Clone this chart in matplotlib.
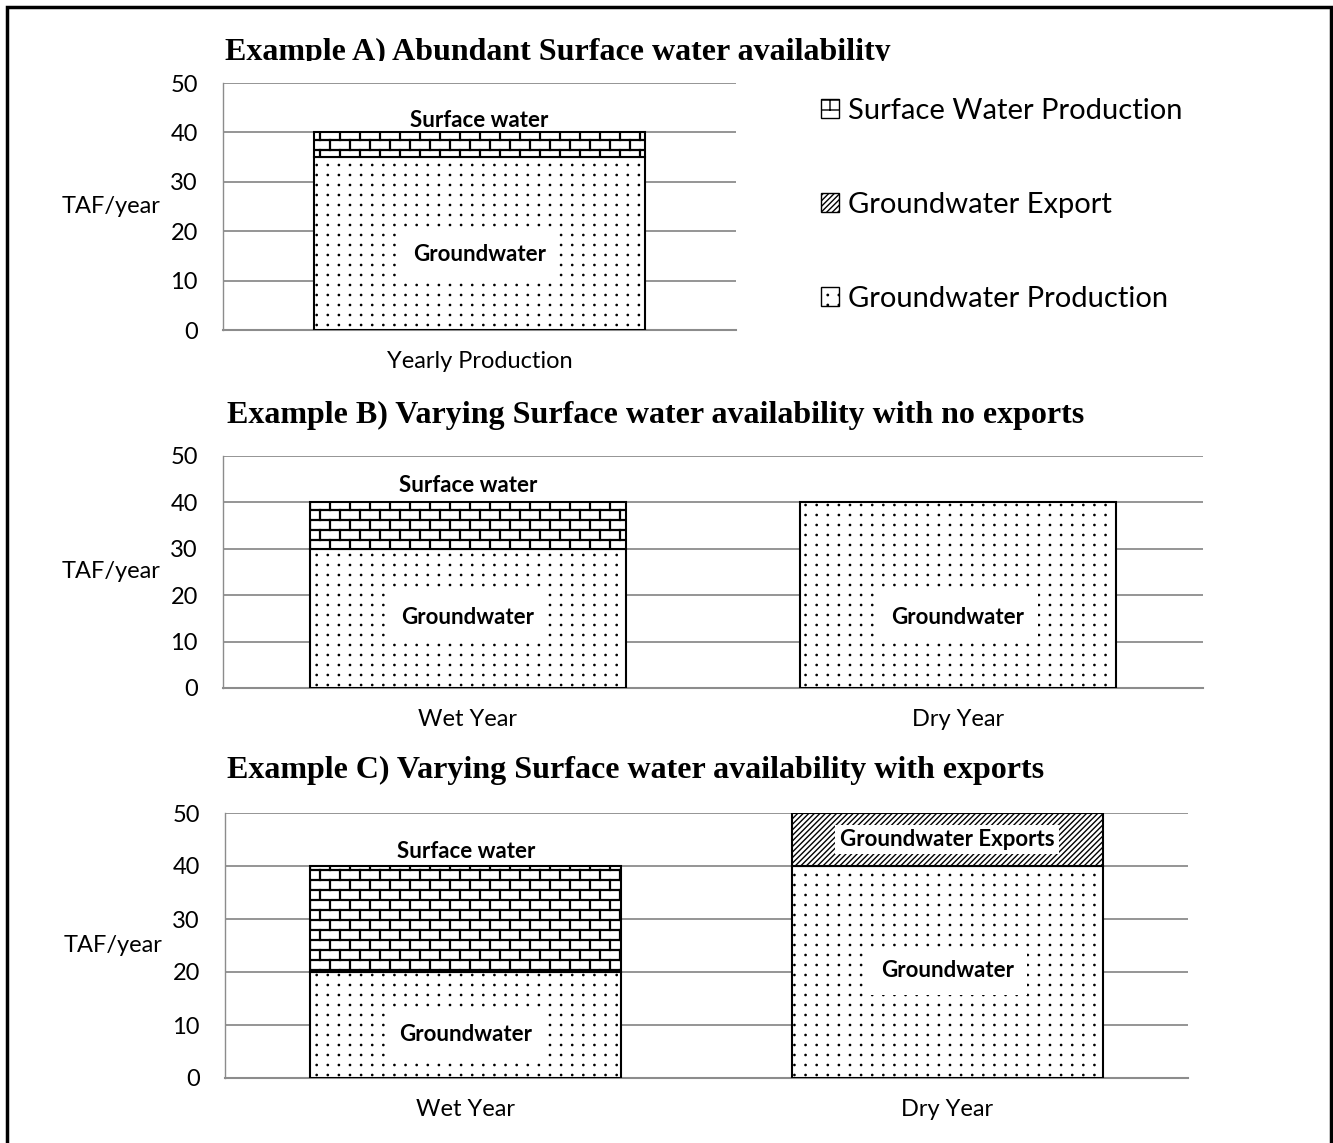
import warnings
import numpy as np
import matplotlib
matplotlib.use("Agg")
import matplotlib.pyplot as plt
import matplotlib.hatch as mhatch
from matplotlib.path import Path
from matplotlib.patches import Patch, Rectangle

warnings.filterwarnings("ignore")

# ---------------- data (TAF/year) ----------------
a_categories = ["Yearly Production"]
a_groundwater = [35]
a_surface = [5]

b_categories = ["Wet Year", "Dry Year"]
b_groundwater = [30, 40]
b_surface = [10, 0]

c_categories = ["Wet Year", "Dry Year"]
c_groundwater = [20, 40]
c_surface = [20, 0]
c_export = [0, 10]

y_ticks = [0, 10, 20, 30, 40, 50]
legend_labels = ["Surface Water Production", "Groundwater Export",
                 "Groundwater Production"]
titles = ["Example A) Abundant Surface water availability",
          "Example B) Varying Surface water availability with no exports",
          "Example C) Varying Surface water availability with exports"]


# ---------------- custom fill patterns ----------------
class BrickHatch(mhatch.HatchPatternBase):
    """Running-bond brick courses, selected with 'b'."""
    def __init__(self, hatch, density):
        n = hatch.count('b')
        segs = []
        if n:
            rows, cols = 10 * n, 5 * n
            for r in range(rows + 1):
                segs.append(((0.0, r / rows), (1.0, r / rows)))
            for r in range(rows):
                if r % 2:
                    xs = [(c + 0.5) / cols for c in range(cols)]
                else:
                    xs = [c / cols for c in range(cols + 1)]
                for x in xs:
                    segs.append(((x, r / rows), (x, (r + 1) / rows)))
        self._pts = np.array(segs, dtype=float).reshape(-1, 2)
        self.num_vertices = len(self._pts)

    def set_vertices_and_codes(self, vertices, codes):
        vertices[:] = self._pts
        codes[0::2] = Path.MOVETO
        codes[1::2] = Path.LINETO


class DotGridHatch(mhatch.HatchPatternBase):
    """Regular grid of small dots, selected with 'd'."""
    def __init__(self, hatch, density):
        n = hatch.count('d')
        circle = Path.unit_circle()
        self._cv = circle.vertices
        self._cc = circle.codes
        self.nx, self.ny = 9 * n, 10 * n
        self.num_vertices = self.nx * self.ny * len(self._cv) if n else 0

    def set_vertices_and_codes(self, vertices, codes):
        k = len(self._cv)
        i = 0
        for row in range(self.ny):
            for col in range(self.nx):
                cx = (col + 0.5) / self.nx
                cy = (row + 0.5) / self.ny
                vertices[i:i + k] = self._cv * 0.007 + (cx, cy)
                codes[i:i + k] = self._cc
                i += k


mhatch._hatch_types.append(BrickHatch)
mhatch._hatch_types.append(DotGridHatch)

SANS = ["Lato", "DejaVu Sans"]
SERIF = ["Liberation Serif", "DejaVu Serif"]
plt.rcParams['font.family'] = SANS

W, H = 1333, 1143
fig = plt.figure(figsize=(W / 100, H / 100), dpi=100)


def px_axes(left, right, top, bottom):
    return fig.add_axes([left / W, 1 - bottom / H, (right - left) / W, (bottom - top) / H])


GRID = "#8c8c8c"
BAR_W = 0.646
STYLE = {
    "gw": dict(hatch="d", hlw=0.9),
    "sw": dict(hatch="b", hlw=1.6),
    "ex": dict(hatch="//////", hlw=1.0),
}


def hatched_bar(ax, x, h, bottom, kind):
    st = STYLE[kind]
    with plt.rc_context({"hatch.linewidth": st["hlw"], "hatch.color": "black"}):
        return ax.bar(x, h, width=BAR_W, bottom=bottom, facecolor="white",
                      edgecolor="black", linewidth=1.5, hatch=st["hatch"], zorder=3)


def style_axes(ax, cats):
    ax.set_ylim(0, 50)
    ax.set_xlim(-0.5, len(cats) - 0.5)
    ax.set_yticks(y_ticks)
    ax.set_xticks(range(len(cats)))
    ax.set_xticklabels(cats)
    ax.tick_params(axis="y", length=0, pad=18, labelsize=17)
    ax.tick_params(axis="x", length=0, pad=15, labelsize=17)
    ax.grid(axis="y", color=GRID, linewidth=1.3, zorder=0)
    ax.set_axisbelow(True)
    for s in ("top", "right"):
        ax.spines[s].set_visible(False)
    ax.spines["left"].set_color(GRID)
    ax.spines["left"].set_linewidth(1.0)
    ax.spines["bottom"].set_color(GRID)
    ax.spines["bottom"].set_linewidth(1.5)
    ax.set_ylabel("TAF/year", rotation=0, fontsize=17, ha="right", va="center",
                  labelpad=7)


def label(ax, x, y, text, boxed=True, pad=0.6):
    kw = dict(ha="center", va="center", fontsize=16, fontweight="bold", zorder=5)
    if boxed:
        kw["bbox"] = dict(boxstyle=f"square,pad={pad}", fc="white", ec="none")
    ax.text(x, y, text, **kw)


# ---------------- Panel A ----------------
axA = px_axes(223, 736, 83, 330)
style_axes(axA, a_categories)
xa = np.arange(len(a_categories))
hatched_bar(axA, xa, a_groundwater, 0, "gw")
hatched_bar(axA, xa, a_surface, a_groundwater, "sw")
label(axA, 0, 42.5, "Surface water", boxed=False)
label(axA, 0, 15.2, "Groundwater")

# ---------------- Panel B ----------------
axB = px_axes(223, 1203, 456, 688)
style_axes(axB, b_categories)
xb = np.arange(len(b_categories))
hatched_bar(axB, xb, b_groundwater, 0, "gw")
hatched_bar(axB, xb[:1], b_surface[:1], b_groundwater[:1], "sw")
label(axB, 0, 43.7, "Surface water", boxed=False)
label(axB, 0, 15.3, "Groundwater")
label(axB, 1, 15.3, "Groundwater")

# ---------------- Panel C ----------------
axC = px_axes(225, 1188, 813, 1078)
style_axes(axC, c_categories)
xc = np.arange(len(c_categories))
hatched_bar(axC, xc, c_groundwater, 0, "gw")
hatched_bar(axC, xc[:1], c_surface[:1], c_groundwater[:1], "sw")
hatched_bar(axC, xc[1:], c_export[1:], c_groundwater[1:], "ex")
label(axC, 0, 42.8, "Surface water", boxed=False)
label(axC, 0, 8.3, "Groundwater")
label(axC, 1, 20.2, "Groundwater")
label(axC, 1, 45.0, "Groundwater Exports", pad=0.2)

# ---------------- titles ----------------
TITLE_SIZE = 23
tA = fig.text(225 / W, 1 - 60 / H, titles[0], fontsize=TITLE_SIZE, fontweight="bold",
              family=SERIF, va="baseline", ha="left")
tA.set_clip_path(Rectangle((0, 1 - 61 / H), 1, 61 / H, transform=fig.transFigure))
fig.text(227 / W, 1 - 423 / H, titles[1], fontsize=TITLE_SIZE, fontweight="bold",
         family=SERIF, va="baseline", ha="left")
fig.text(227 / W, 1 - 778 / H, titles[2], fontsize=TITLE_SIZE, fontweight="bold",
         family=SERIF, va="baseline", ha="left")

# ---------------- legend ----------------
handles = []
for kind in ("sw", "ex", "gw"):
    st = STYLE[kind]
    with plt.rc_context({"hatch.linewidth": min(st["hlw"], 1.0)}):
        handles.append(Patch(facecolor="white", edgecolor="black", linewidth=1.0,
                             hatch=st["hatch"]))
fig.legend(handles, legend_labels, loc="upper left",
           bbox_to_anchor=(821 / W, 1 - 98 / H), frameon=False, fontsize=21,
           handlelength=0.62, handleheight=0.62, handletextpad=0.3,
           labelspacing=2.33, borderpad=0, borderaxespad=0)

# ---------------- outer frame ----------------
fig.add_artist(Rectangle((7 / W, -0.05), (1331 - 7) / W, 1.05 - 7 / H,
                         transform=fig.transFigure, fill=False,
                         edgecolor="black", linewidth=2.5))

fig.savefig("out.png", dpi=100)
